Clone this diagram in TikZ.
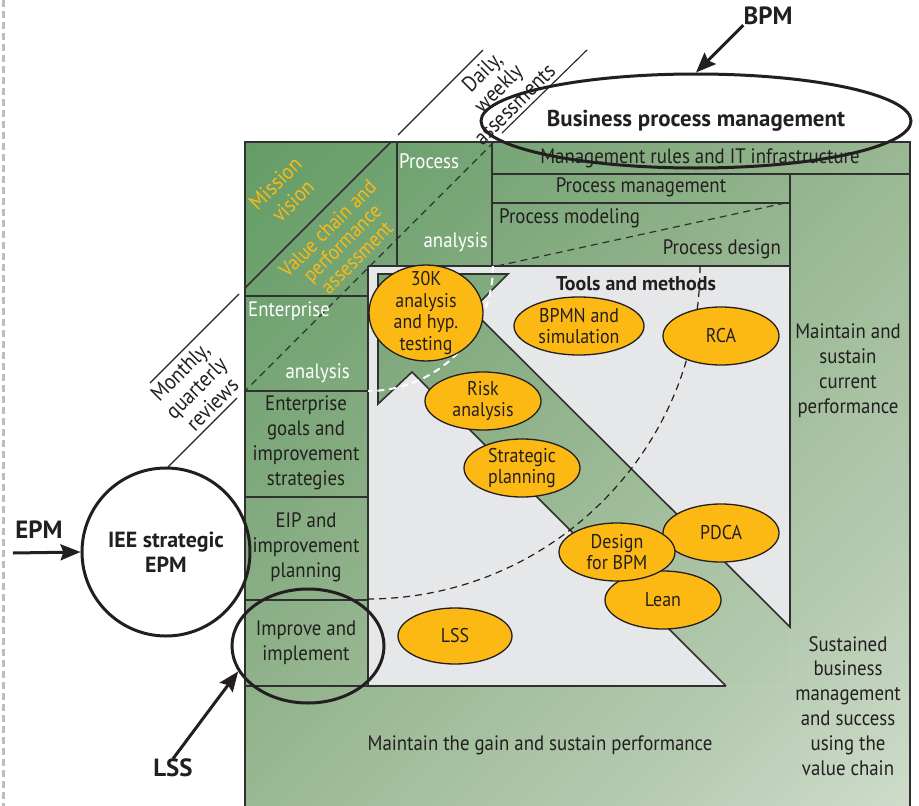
\documentclass[tikz,border=0pt]{standalone}
\usepackage{fontspec}
\setmainfont{PT Sans}[FakeStretch=0.9]
\newfontfamily\heavyface{PT Sans}[FakeStretch=1.0]
\usepackage{tikz}
\usetikzlibrary{shapes.geometric,arrows.meta}
\usepackage{xcolor}

\definecolor{ink}{HTML}{231F20}
\definecolor{rule}{HTML}{303030}
\definecolor{toolfill}{HTML}{FDB913}
\definecolor{panel}{HTML}{E6E7E8}
\definecolor{margin}{HTML}{BDBDBD}
\definecolor{gOne}{HTML}{56915B}
\definecolor{gTwo}{HTML}{6AA06C}
\definecolor{gThree}{HTML}{8AAE85}
\definecolor{gFour}{HTML}{A0BD9A}
\definecolor{gFive}{HTML}{B4CAAF}
\definecolor{gSix}{HTML}{CEDBCA}
\definecolor{gSeven}{HTML}{F3F5F1}

\pgfdeclareverticalshading{valuechain}{100bp}{color(0bp)=(gSeven); color(15bp)=(gSix); color(30bp)=(gFive); color(45bp)=(gFour); color(60bp)=(gThree); color(80bp)=(gTwo); color(100bp)=(gOne)}

\tikzset{
	cellline/.style={draw=rule, line width=1.6bp},
	celltext/.style={font=\fontsize{21}{25}\selectfont, text=ink, align=center, inner sep=0pt},
	whitetext/.style={font=\fontsize{21}{25}\selectfont, text=white, inner sep=0pt},
	tool/.style={ellipse, draw=ink, line width=1.3bp, fill=toolfill, inner sep=-30bp, minimum width=116bp, minimum height=58bp, font=\fontsize{20}{21}\selectfont, text=ink, align=center},
	ring/.style={draw=ink, line width=3bp, inner sep=-10bp},
	tag/.style={font=\heavyface\bfseries\fontsize{25}{25}\selectfont, text=ink, inner sep=0pt},
	guide/.style={draw=ink, line width=1.1bp},
	pointer/.style={draw=ink, line width=3bp, -{Stealth[length=20bp, width=16bp, inset=3bp]}},
	slanted/.style={rotate=45, align=center, inner sep=0pt, font=\fontsize{22}{23}\selectfont}
}

\begin{document}
\begin{tikzpicture}[x=1bp, y=-1bp]
	\useasboundingbox (0,0) rectangle (919,806);
	\fill[white] (0,0) rectangle (919,806);
	\draw[margin, line width=3bp, dash pattern=on 7bp off 4bp] (3,0) -- (3,806);

	\shade[shading=valuechain, shading angle=45] (245,142) rectangle (910,806);
	\fill[panel, even odd rule] (368,266) rectangle (790,686)
		(378,274) -- (508,274) -- (472,310) -- (790,627) -- (790,686) -- (726,686) -- (412,372) -- (378,404) -- cycle;

	\draw[cellline] (245,806) -- (245,142) -- (910,142) -- (910,806);
	\draw[cellline] (492,174) -- (910,174);
	\draw[cellline] (492,203) -- (790,203);
	\draw[cellline] (397,142) -- (397,266);
	\draw[cellline] (492,142) -- (492,266);
	\draw[cellline] (368,266) -- (790,266);
	\draw[cellline] (368,266) -- (368,686);
	\draw[cellline] (245,296) -- (368,296);
	\draw[cellline] (245,391) -- (368,391);
	\draw[cellline] (245,497) -- (368,497);
	\draw[cellline] (245,600) -- (368,600);
	\draw[cellline] (245,686) -- (726,686);
	\draw[cellline] (790,174) -- (790,627) -- (472,310) -- (508,274) -- (378,274) -- (378,404) -- (412,372) -- (726,686);
	\draw[cellline] (391,142) -- (245,288);
	\draw[cellline, line width=1.2bp, dash pattern=on 7bp off 5bp] (494,142) -- (245,391);
	\draw[cellline, line width=1.2bp, dash pattern=on 7bp off 5bp] (497,266) -- (785,203);
	\draw[ink, line width=1.2bp, dash pattern=on 7bp off 5bp] (700,266) arc[start angle=0, end angle=90, radius=333];
	\draw[white, line width=2bp, dash pattern=on 7bp off 5bp] (493,266) arc[start angle=0, end angle=90, radius=125];

	\draw[guide] (398,135) -- (483,50);
	\draw[guide] (502,133) -- (587,50);
	\draw[guide] (150,383) -- (239,294);
	\draw[guide] (168,467) -- (237,398);

	\node[slanted, text=ink] (daily) at (498,88) {Daily,\\weekly\\assessments};
	\node[slanted, text=ink] (monthly) at (196,388) {Monthly,\\quarterly\\reviews};
	\node[slanted, text=toolfill, font=\fontsize{22}{25}\selectfont] (mission) at (284,192) {Mission\\vision};
	\node[slanted, text=toolfill, font=\fontsize{21}{20.5}\selectfont] (valuechain) at (342,243) {Value chain and\\performance\\assessment};

	\node[celltext] (rules) at (700,158) {Management rules and IT infrastructure};
	\node[celltext] (procmgmt) at (641,187) {Process management};
	\node[celltext, anchor=west] (modeling) at (499,218) {Process modeling};
	\node[celltext, anchor=east] (design) at (781,249) {Process design};
	\node[whitetext, anchor=west] (process) at (399,161) {Process};
	\node[whitetext, anchor=east] (procanalysis) at (488,242) {analysis};
	\node[whitetext, anchor=west] (enterprise) at (248,311) {Enterprise};
	\node[whitetext, anchor=east] (entanalysis) at (350,373) {analysis};
	\node[celltext] (goals) at (306,443) {Enterprise\\goals and\\improvement\\strategies};
	\node[celltext] (eip) at (306,547) {EIP and\\improvement\\planning};
	\node[celltext] (improve) at (306,643) {Improve and\\implement};
	\node[celltext] (maintaingain) at (540,745) {Maintain the gain and sustain performance};
	\node[celltext] (sustained) at (848,706) {Sustained\\business\\management\\and success\\using the\\value chain};
	\node[celltext] (maintaincurrent) at (848,371) {Maintain and\\sustain\\current\\performance};
	\node[celltext, font=\heavyface\bfseries\fontsize{20}{24}\selectfont] (tools) at (636,284) {Tools and methods};

	\node[tool, minimum width=114bp, minimum height=96bp, font=\fontsize{20}{21.5}\selectfont] (thirtyk) at (426,313) {30K\\analysis\\and hyp.\\testing};
	\node[tool, minimum width=130bp] (bpmn) at (579,326) {BPMN and\\simulation};
	\node[tool] (rca) at (721,336) {RCA};
	\node[tool] (risk) at (483,401) {Risk\\analysis};
	\node[tool] (strategic) at (522,468) {Strategic\\planning};
	\node[tool] (pdca) at (721,533) {PDCA};
	\node[tool] (lean) at (663,600) {Lean};
	\node[tool] (dfbpm) at (617,552) {Design\\for BPM};
	\node[tool, minimum width=114bp, minimum height=56bp] (lsstool) at (455,636) {LSS};

	\node[ring, ellipse, minimum width=430bp, minimum height=94bp, font=\heavyface\bfseries\fontsize{23}{25}\selectfont, text=ink] (bpm) at (696,121) {Business process management};
	\node[ring, circle, minimum size=168bp, align=center, font=\heavyface\bfseries\fontsize{22}{25}\selectfont, text=ink] (epm) at (166,552) {IEE strategic\\EPM};
	\node[ring, ellipse, minimum width=152bp, minimum height=114bp] (lss) at (308,646) {};

	\node[tag] (bpmtag) at (768,16) {BPM};
	\node[tag] (epmtag) at (39,530) {EPM};
	\node[tag] (lsstag) at (173,768) {LSS};
	\coordinate (epmtail) at (13,553);
	\draw[pointer] (bpmtag.south west) -- (bpm.north);
	\draw[pointer] (epmtail) -- (epm.west);
	\draw[pointer] (lsstag.north) -- (lss.200);
\end{tikzpicture}
\end{document}
